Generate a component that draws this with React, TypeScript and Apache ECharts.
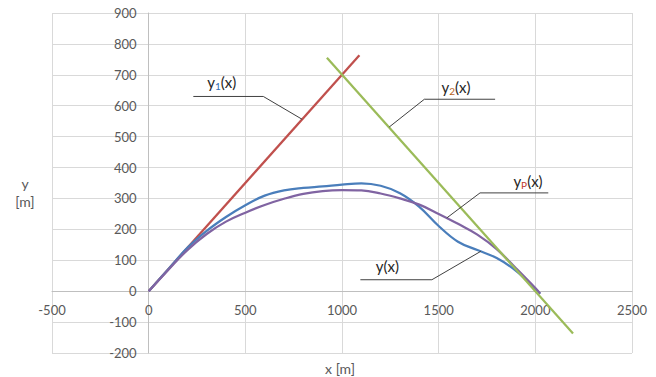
import React, { useEffect, useRef } from "react";
import * as echarts from "echarts";

// x values of sampled curves
const curveX = [0, 100, 200, 300, 400, 500, 600, 700, 800, 900, 1000, 1100, 1200, 1300, 1400, 1500, 1600, 1700, 1800, 1900, 2000, 2025];
// y(x) – blue
const yValues = [0, 70, 140, 195, 240, 278, 309, 326, 334, 339, 345, 349, 341, 317, 273, 211, 160, 133, 107, 66, 8, -8];
// yP(x) – purple
const yPValues = [0, 68, 133, 185, 225, 254, 279, 299, 315, 324, 327, 326, 316, 300, 280, 250, 218, 183, 136, 74, 10, -8];
// y1(x) – red tangent
const y1X = [0, 1090];
const y1Y = [0, 763];
// y2(x) – green tangent
const y2X = [922, 2195];
const y2Y = [755, -137];

// callout leader lines (data coordinates)
const leaderY1 = [[231, 630], [593, 630], [794, 556]];
const leaderY2 = [[1792, 621], [1426, 621], [1244, 531]];
const leaderYP = [[2067, 318], [1714, 318], [1542, 237]];
const leaderY = [[1095, 37], [1465, 37], [1718, 129]];

// callout text anchors (data coordinates)
const labelNames = ["y1", "y2", "yP", "y"];
const labelX = [378, 1590, 1962, 1235];
const labelY = [676, 660, 355, 83];

const xMin = -500, xMax = 2500, xStep = 500;
const yMin = -200, yMax = 900, yStep = 100;

const FONT = "Lato, 'Open Sans', sans-serif";

const zip = (xs: number[], ys: number[]) => xs.map((x, i) => [x, ys[i]]);

export default function App() {
  const ref = useRef<HTMLDivElement>(null);
  useEffect(() => {
    if (!ref.current) return;
    const chart = echarts.init(ref.current, null, { renderer: "svg" });
    const leaderStyle = { color: "#404040", width: 1 };
    const leaderSeries = (data: number[][]) => ({
      type: "line",
      data,
      symbol: "none",
      lineStyle: leaderStyle,
      silent: true,
      z: 5,
    });
    const labelStyle = {
      color: "#595959",
      fontSize: 13,
      fontFamily: FONT,
      margin: 12,
      formatter: (v: number) => String(v),
    };
    chart.setOption({
      animation: false,
      grid: { left: 52, right: 24, top: 13, bottom: 24 },
      xAxis: {
        type: "value",
        min: xMin,
        max: xMax,
        interval: xStep,
        axisLine: { show: true, onZero: false, lineStyle: { color: "#bfbfbf", width: 1 } },
        axisTick: { show: false },
        axisLabel: labelStyle,
        splitLine: { show: true, lineStyle: { color: "#d9d9d9", width: 1 } },
      },
      yAxis: {
        type: "value",
        min: yMin,
        max: yMax,
        interval: yStep,
        axisLine: { show: true, onZero: false, lineStyle: { color: "#bfbfbf", width: 1 } },
        axisTick: { show: false },
        axisLabel: labelStyle,
        splitLine: { show: true, lineStyle: { color: "#d9d9d9", width: 1 } },
      },
      series: [
        { name: "y1", type: "line", data: zip(y1X, y1Y), symbol: "none", lineStyle: { color: "#c0504d", width: 2.25 }, z: 2 },
        { name: "y", type: "line", data: zip(curveX, yValues), symbol: "none", smooth: 0.4, lineStyle: { color: "#4a7ebb", width: 2.25 }, z: 3 },
        { name: "yP", type: "line", data: zip(curveX, yPValues), symbol: "none", smooth: 0.4, lineStyle: { color: "#8064a2", width: 2.25 }, z: 3 },
        { name: "y2", type: "line", data: zip(y2X, y2Y), symbol: "none", lineStyle: { color: "#9bbb59", width: 2.25 }, z: 4 },
        leaderSeries(leaderY1),
        leaderSeries(leaderY2),
        leaderSeries(leaderYP),
        leaderSeries(leaderY),
      ],
    });

    // move both axes (line + labels) to the zero crossing
    const corner = chart.convertToPixel({ gridIndex: 0 }, [xMin, yMin]) as number[];
    const zero = chart.convertToPixel({ gridIndex: 0 }, [0, 0]) as number[];
    chart.setOption({
      xAxis: { offset: -(corner[1] - zero[1]) },
      yAxis: { offset: -(zero[0] - corner[0]) },
    });

    const subColors: Record<string, string> = { y1: "#2e6db4", y2: "#b8621b", yP: "#c0392b" };
    const texts = labelNames.map((n, i) => {
      const p = chart.convertToPixel({ gridIndex: 0 }, [labelX[i], labelY[i]]) as number[];
      const sub = n.slice(1);
      const txt = sub ? `{m|y}{s|${sub}}{m|(x)}` : `{m|y(x)}`;
      return {
        type: "text",
        x: p[0],
        y: p[1],
        style: {
          text: txt,
          align: "center",
          verticalAlign: "middle",
          rich: {
            m: { fontSize: 15, fontFamily: FONT, fill: "#262626", color: "#262626" },
            s: { fontSize: 10, fontFamily: FONT, fill: subColors[n], color: subColors[n], padding: [7, 0, 0, 0] },
          },
        },
        z: 10,
      };
    });
    chart.setOption({
      graphic: [
        ...texts,
        {
          type: "text",
          x: 25,
          y: 183,
          style: { text: "y", fontSize: 14, fontFamily: FONT, fill: "#595959", align: "center", verticalAlign: "middle" },
        },
        {
          type: "text",
          x: 25,
          y: 201,
          style: { text: "[m]", fontSize: 14, fontFamily: FONT, fill: "#595959", align: "center", verticalAlign: "middle" },
        },
        {
          type: "text",
          x: 340,
          y: 368,
          style: { text: "x [m]", fontSize: 14, fontFamily: FONT, fill: "#595959", align: "center", verticalAlign: "middle" },
        },
      ],
    });
    return () => chart.dispose();
  }, []);
  return <div ref={ref} style={{ width: 656, height: 377, position: "absolute", left: 0, top: 0 }} />;
}
